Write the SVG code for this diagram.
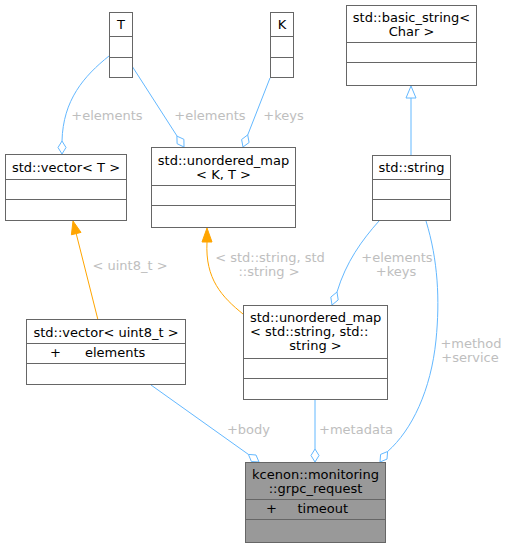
<svg xmlns="http://www.w3.org/2000/svg" width="507" height="548" viewBox="0 0 507 548">
<style>
.box{fill:#ffffff;stroke:#666666;stroke-width:1}
.main{fill:#999999;stroke:#666666;stroke-width:1}
.sep{stroke:#666666;stroke-width:1;fill:none}
text{font-family:"DejaVu Sans","Liberation Sans",sans-serif;font-size:13px}
.t{fill:#000000}
.c{text-anchor:middle}
.lbl{fill:#bebebe;text-anchor:middle}
.e{fill:none;stroke:#63b8ff;stroke-width:1}
.d{fill:#ffffff;stroke:#63b8ff;stroke-width:1}
.o{fill:none;stroke:#ffa500;stroke-width:1}
.oa{fill:#ffa500;stroke:#ffa500;stroke-width:1}
</style>
<rect width="507" height="548" fill="#ffffff"/>
<g id="edges">
  <path class="e" d="M109,56 C84,76 63,100 62,141"/>
  <polygon class="d" points="62,154 58,147.5 62,141 66,147.5"/>
  <text class="lbl" x="107" y="120">+elements</text>

  <path class="e" d="M132,66 L177,136"/>
  <polygon class="d" points="184,147 177.1,143.7 176.9,136.1 183.9,139.3"/>
  <text class="lbl" x="210" y="120">+elements</text>

  <path class="e" d="M270,78 L247.7,135"/>
  <polygon class="d" points="243,147 241.6,139.5 247.7,134.9 249.1,142.5"/>
  <text class="lbl" x="283.5" y="120">+keys</text>

  <path class="e" d="M411,155 L411,98"/>
  <polygon class="d" points="411,86 406,98 416,98"/>

  <path class="o" d="M98,320 L76.2,233.6"/>
  <polygon class="oa" points="73,221 81,232.4 71.4,234.8"/>
  <text class="lbl" x="130" y="270">&lt; uint8_t &gt;</text>

  <path class="o" d="M243,314 C222,297 205,279 207,242"/>
  <polygon class="oa" points="207,228 212,242 202,242"/>
  <text class="lbl" x="270" y="262">&lt; std::string, std</text>
  <text class="lbl" x="269" y="276">::string &gt;</text>

  <path class="e" d="M379,221 C362,240 346,262 337,292"/>
  <polygon class="d" points="332,305 330.8,297.1 337,292 338.2,299.9"/>
  <text class="lbl" x="397" y="262">+elements</text>
  <text class="lbl" x="396" y="276">+keys</text>

  <path class="e" d="M426,221 C438,260 440,300 436,340 C431,390 412,430 387.6,451.5"/>
  <polygon class="d" points="380,462 380.6,454.4 387.6,451.5 387,459.1"/>
  <text class="lbl" x="471" y="348">+method</text>
  <text class="lbl" x="470" y="362">+service</text>

  <path class="e" d="M151,385 L248.4,454.4"/>
  <polygon class="d" points="259,462 251.4,461.5 248.4,454.4 256,455"/>
  <text class="lbl" x="248.5" y="434">+body</text>

  <path class="e" d="M315,400 L315,449"/>
  <polygon class="d" points="315,462 311,455.5 315,449 319,455.5"/>
  <text class="lbl" x="356" y="434">+metadata</text>
</g>
<g id="node-T">
  <rect class="box" x="109.5" y="12.5" width="23" height="65"/>
  <path class="sep" d="M109.5,36.5 H132.5 M109.5,57.5 H132.5"/>
  <text class="t c" x="121" y="29">T</text>
</g>
<g id="node-K">
  <rect class="box" x="270.5" y="12.5" width="23" height="65"/>
  <path class="sep" d="M270.5,36.5 H293.5 M270.5,57.5 H293.5"/>
  <text class="t c" x="282" y="29">K</text>
</g>
<g id="node-vectorT">
  <rect class="box" x="5.5" y="154.5" width="121" height="66"/>
  <path class="sep" d="M5.5,179.5 H126.5 M5.5,199.5 H126.5"/>
  <text class="t c" x="66" y="171.5">std::vector&lt; T &gt;</text>
</g>
<g id="node-umapKT">
  <rect class="box" x="151.5" y="147.5" width="144" height="80"/>
  <path class="sep" d="M151.5,185.5 H295.5 M151.5,205.5 H295.5"/>
  <text class="t c" x="223.5" y="164.5">std::unordered_map</text>
  <text class="t c" x="223.5" y="178.5">&lt; K, T &gt;</text>
</g>
<g id="node-basic-string">
  <rect class="box" x="346.5" y="5.5" width="130" height="80"/>
  <path class="sep" d="M346.5,42.5 H476.5 M346.5,62.5 H476.5"/>
  <text class="t c" x="411.5" y="21.5">std::basic_string&lt;</text>
  <text class="t c" x="411.5" y="35.5">Char &gt;</text>
</g>
<g id="node-string">
  <rect class="box" x="372.5" y="155.5" width="78" height="65"/>
  <path class="sep" d="M372.5,179.5 H450.5 M372.5,199.5 H450.5"/>
  <text class="t c" x="411.5" y="172">std::string</text>
</g>
<g id="node-vector-uint8">
  <rect class="box" x="26.5" y="319.5" width="159" height="65"/>
  <path class="sep" d="M26.5,343.5 H185.5 M26.5,363.5 H185.5"/>
  <text class="t c" x="106" y="336.5">std::vector&lt; uint8_t &gt;</text>
  <text class="t c" x="55.5" y="357">+</text>
  <text class="t" x="85" y="357">elements</text>
</g>
<g id="node-umap-string">
  <rect class="box" x="243.5" y="305.5" width="144" height="94"/>
  <path class="sep" d="M243.5,358.5 H387.5 M243.5,378.5 H387.5"/>
  <text class="t" x="250" y="322">std::unordered_map</text>
  <text class="t" x="250" y="336">&lt; std::string, std::</text>
  <text class="t c" x="315.5" y="350">string &gt;</text>
</g>
<g id="node-grpc-request">
  <rect class="main" x="245.5" y="462.5" width="140" height="80"/>
  <path class="sep" d="M245.5,499.5 H385.5 M245.5,519.5 H385.5"/>
  <text class="t c" x="315.5" y="479">kcenon::monitoring</text>
  <text class="t c" x="315.5" y="493">::grpc_request</text>
  <text class="t c" x="271.5" y="513">+</text>
  <text class="t" x="297.5" y="513">timeout</text>
</g>
</svg>
